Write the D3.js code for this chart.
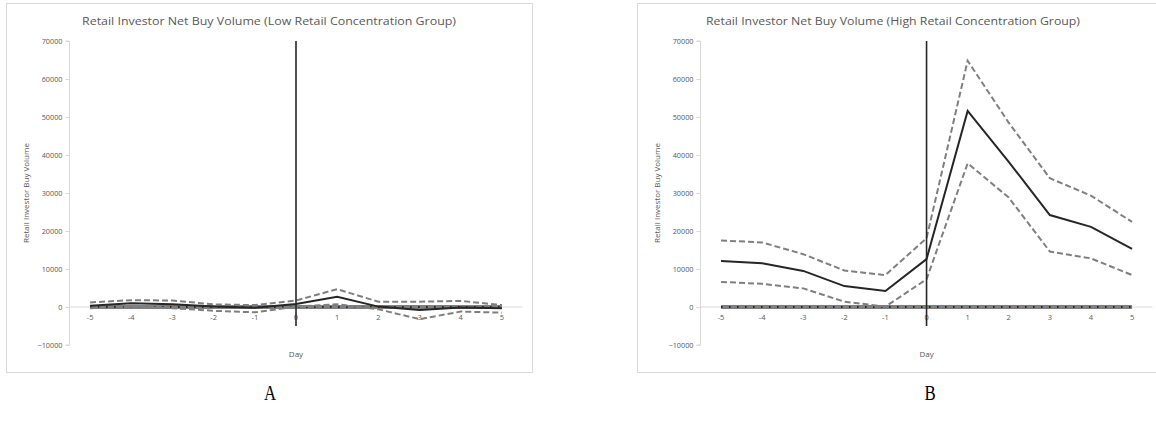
<!DOCTYPE html>
<html>
<head>
<meta charset="utf-8">
<script src="https://cdn.jsdelivr.net/npm/d3@7"></script>
<style>
  html, body { margin: 0; padding: 0; background: #fff; }
  svg { display: block; }
</style>
</head>
<body>
<svg id="chart" width="1156" height="422"></svg>
<script>
// ---------------- DATA ----------------
const days = [-5, -4, -3, -2, -1, 0, 1, 2, 3, 4, 5];
const yTicks = [-10000, 0, 10000, 20000, 30000, 40000, 50000, 60000, 70000];

const lowTitle = "Retail Investor Net Buy Volume (Low Retail Concentration Group)";
const lowMean  = [300, 1000, 700, 100, -200, 800, 2700, 100, -800, -100, -300];
const lowUpper = [1200, 1800, 1700, 700, 500, 1700, 4700, 1400, 1400, 1600, 500];
const lowLower = [-300, 100, -300, -1000, -1400, 100, 700, -600, -3200, -1200, -1500];

const highTitle = "Retail Investor Net Buy Volume (High Retail Concentration Group)";
const highMean  = [12100, 11500, 9500, 5500, 4200, 12600, 51600, 38200, 24200, 21100, 15300];
const highUpper = [17500, 17000, 13900, 9600, 8400, 18100, 64800, 48500, 33900, 29300, 22400];
const highLower = [6600, 6100, 4900, 1400, 100, 7300, 37800, 28800, 14600, 12800, 8400];

const zeroLine = [0, 0, 0, 0, 0, 0, 0, 0, 0, 0, 0];
const eventLine = [70000, -5000];   // vertical marker at day 0
const yAxisTitle = "Retail Investor Buy Volume";
const xAxisTitle = "Day";
const panelLabels = ["A", "B"];

// ---------------- DRAW ----------------
const svg = d3.select("#chart");
const textColor = "#595959";
const sans = "'Open Sans', 'Liberation Sans', sans-serif";

const panels = [
  { title: lowTitle, mean: lowMean, upper: lowUpper, lower: lowLower,
    box: [6, 3, 526, 369], xr: [69.5, 522.5], titleX: 269, ylabX: 27, letter: panelLabels[0], letterX: 270 },
  { title: highTitle, mean: highMean, upper: highUpper, lower: highLower,
    box: [637, 3, 540, 369], xr: [700.5, 1152.6], titleX: 893, ylabX: 658, letter: panelLabels[1], letterX: 930 }
];

const y = d3.scaleLinear().domain([-10000, 70000]).range([345, 41]);

panels.forEach(p => {
  const g = svg.append("g");
  g.append("rect")
    .attr("x", p.box[0] + 0.5).attr("y", p.box[1] + 0.5)
    .attr("width", p.box[2]).attr("height", p.box[3])
    .attr("fill", "#fff").attr("stroke", "#d9d9d9").attr("stroke-width", 1);

  const x = d3.scaleBand().domain(days).range(p.xr).padding(0);
  const cx = d => x(d) + x.bandwidth() / 2;

  // Title
  g.append("text")
    .attr("x", p.titleX).attr("y", 25)
    .attr("text-anchor", "middle")
    .style("font-family", sans)
    .attr("font-size", 11.5).attr("fill", textColor)
    .attr("textLength", 374).attr("lengthAdjust", "spacingAndGlyphs")
    .text(p.title);

  // Y axis
  const yAxis = d3.axisLeft(y).tickValues(yTicks).tickSize(4).tickPadding(3)
    .tickFormat(d3.format("d"));
  const ya = g.append("g").attr("transform", `translate(${p.xr[0]},0)`).call(yAxis);
  ya.select(".domain").attr("stroke", "#d9d9d9").attr("d", `M-4,${y(70000)}H0V${y(-10000)}H-4`);
  ya.selectAll(".tick line").attr("stroke", "#d9d9d9");
  ya.selectAll(".tick text").attr("fill", textColor)
    .style("font-family", sans).style("font-size", "7.3px");

  // X axis at zero
  const xAxis = d3.axisBottom(x).tickSize(0).tickPadding(8);
  const xa = g.append("g").attr("transform", `translate(0,${y(0)})`).call(xAxis);
  xa.select(".domain").attr("stroke", "#d9d9d9").attr("d", `M${p.xr[0]},0H${p.xr[1]}`);
  xa.selectAll(".tick text").attr("fill", textColor)
    .style("font-family", sans).style("font-size", "7.5px");

  // Axis titles
  g.append("text")
    .attr("transform", `translate(${p.ylabX},${(y(70000) + y(-10000)) / 2}) rotate(-90)`)
    .attr("text-anchor", "middle").attr("dominant-baseline", "middle")
    .style("font-family", sans).style("font-size", "8px").attr("fill", textColor)
    .text(yAxisTitle);
  g.append("text")
    .attr("x", cx(0)).attr("y", 357)
    .attr("text-anchor", "middle")
    .style("font-family", sans).style("font-size", "8px").attr("fill", textColor)
    .text(xAxisTitle);

  const line = d3.line().x((d, i) => cx(days[i])).y(d => y(d));

  // Zero series: thick gray + black dotted
  g.append("path").datum(zeroLine).attr("d", line)
    .attr("fill", "none").attr("stroke", "#808080").attr("stroke-width", 4);
  g.append("path").datum(zeroLine).attr("d", line)
    .attr("fill", "none").attr("stroke", "#000").attr("stroke-width", 1.4)
    .attr("stroke-dasharray", "1.5,6.5");

  // CI dashed
  [p.upper, p.lower].forEach(s => {
    g.append("path").datum(s).attr("d", line)
      .attr("fill", "none").attr("stroke", "#7f7f7f").attr("stroke-width", 2)
      .attr("stroke-dasharray", "6,3");
  });

  // Mean solid
  g.append("path").datum(p.mean).attr("d", line)
    .attr("fill", "none").attr("stroke", "#262626").attr("stroke-width", 2);

  // Event line at day 0
  g.append("line")
    .attr("x1", cx(0)).attr("x2", cx(0))
    .attr("y1", y(eventLine[0])).attr("y2", y(eventLine[1]))
    .attr("stroke", "#262626").attr("stroke-width", 1.6);

  // Panel letter (condensed serif)
  svg.append("text")
    .attr("transform", `translate(${p.letterX},400) scale(0.8,1)`)
    .attr("text-anchor", "middle")
    .style("font-family", "'Liberation Serif', 'DejaVu Serif', serif")
    .style("font-size", "21px").attr("fill", "#000")
    .text(p.letter);
});
</script>
</body>
</html>
